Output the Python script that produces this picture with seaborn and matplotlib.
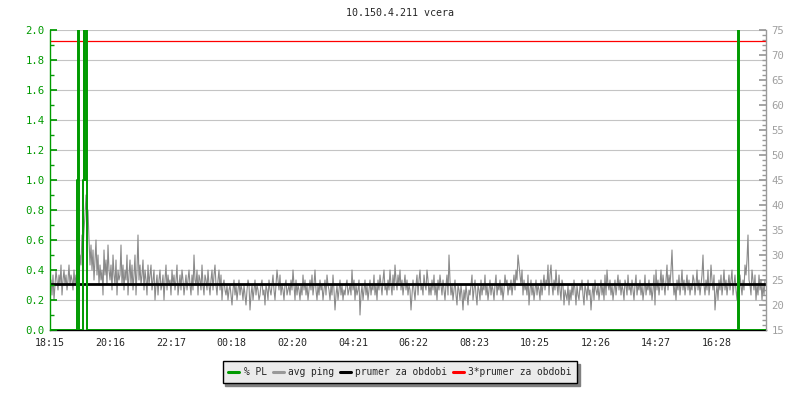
import numpy as np
import pandas as pd
import seaborn as sns
import matplotlib.pyplot as plt
from matplotlib.lines import Line2D
from matplotlib.ticker import MultipleLocator, FixedLocator

# ping samples (ms), one every 2 minutes starting 18:15
ping_ms = [
    23, 25, 22, 26, 21, 24, 27, 25, 23, 26, 24, 28, 22, 25, 27, 24, 26, 23, 25, 28,
    24, 26, 25, 23, 27, 24, 26, 22, 27, 25, 30, 28, 34, 31, 35, 38, 42, 36, 39, 33,
    28, 32, 27, 31, 25, 29, 33, 26, 30, 24, 28, 25, 27, 22, 31, 26, 29, 24, 32, 27,
    25, 28, 23, 30, 26, 24, 29, 22, 27, 25, 26, 32, 24, 28, 23, 27, 25, 30, 22, 26,
    29, 24, 28, 23, 26, 30, 22, 27, 34, 25, 28, 24, 26, 29, 23, 27, 25, 22, 28, 24,
    26, 28, 23, 25, 27, 21, 24, 26, 22, 25, 27, 23, 24, 26, 21, 25, 28, 23, 26, 24,
    25, 22, 27, 24, 26, 23, 25, 28, 22, 24, 26, 23, 27, 25, 22, 24, 26, 23, 25, 27,
    24, 22, 26, 23, 30, 25, 24, 27, 22, 26, 25, 23, 28, 24, 22, 26, 25, 23, 27, 24,
    22, 25, 27, 23, 26, 28, 24, 22, 25, 27, 23, 26, 21, 24, 25, 23, 22, 24, 21, 23,
    24, 22, 20, 23, 25, 22, 24, 21, 23, 25, 22, 24, 23, 21, 24, 22, 20, 23, 25, 24,
    19, 22, 24, 21, 23, 25, 22, 24, 23, 21, 22, 24, 25, 22, 23, 20, 24, 23, 21, 25,
    23, 22, 24, 26, 23, 21, 24, 27, 25, 23, 26, 22, 24, 23, 21, 24, 25, 22, 23, 24,
    22, 25, 23, 27, 24, 21, 25, 22, 24, 23, 21, 24, 22, 26, 23, 25, 22, 24, 21, 23,
    25, 23, 26, 22, 24, 27, 23, 21, 24, 22, 25, 23, 24, 21, 23, 25, 22, 26, 24, 23,
    21, 24, 22, 26, 23, 19, 22, 24, 21, 23, 25, 22, 24, 21, 23, 22, 24, 25, 22, 23,
    24, 22, 27, 23, 25, 21, 24, 22, 23, 25, 18, 22, 24, 21, 23, 25, 22, 24, 21, 23,
    25, 22, 24, 23, 26, 22, 24, 21, 25, 23, 26, 24, 22, 25, 27, 23, 24, 22, 25, 23,
    27, 24, 22, 26, 23, 28, 25, 23, 26, 24, 27, 23, 25, 22, 24, 26, 23, 25, 22, 24,
    23, 19, 22, 25, 23, 21, 24, 26, 22, 25, 27, 23, 24, 22, 26, 24, 23, 27, 25, 22,
    24, 22, 25, 23, 26, 22, 24, 21, 25, 23, 26, 24, 22, 25, 23, 21, 24, 26, 22, 30,
    25, 22, 24, 21, 23, 25, 22, 20, 24, 23, 21, 24, 22, 19, 23, 21, 24, 22, 20, 23,
    22, 24, 26, 21, 23, 25, 22, 20, 24, 23, 21, 25, 22, 24, 23, 26, 22, 24, 21, 23,
    25, 22, 24, 23, 21, 24, 26, 22, 24, 23, 25, 22, 24, 21, 23, 26, 24, 25, 22, 24,
    23, 25, 22, 24, 26, 23, 27, 25, 30, 28, 26, 24, 27, 22, 25, 23, 24, 22, 26, 20,
    23, 25, 22, 24, 21, 23, 25, 22, 24, 23, 21, 25, 22, 24, 26, 23, 25, 24, 28, 22,
    26, 28, 24, 22, 25, 23, 27, 24, 22, 26, 23, 21, 25, 24, 20, 23, 22, 21, 24, 20,
    23, 21, 24, 22, 25, 23, 20, 24, 22, 21, 24, 23, 25, 22, 20, 24, 23, 21, 25, 22,
    23, 19, 22, 24, 21, 25, 23, 22, 24, 21, 23, 25, 22, 24, 21, 26, 22, 27, 24, 23,
    25, 22, 24, 21, 23, 25, 22, 24, 26, 23, 25, 22, 24, 23, 21, 25, 24, 22, 26, 23,
    24, 22, 25, 23, 21, 24, 26, 22, 24, 23, 25, 22, 24, 21, 23, 26, 22, 24, 23, 25,
    22, 24, 21, 23, 26, 20, 27, 23, 25, 22, 24, 27, 23, 26, 24, 22, 25, 28, 23, 26,
    24, 27, 31, 25, 22, 24, 21, 25, 23, 26, 22, 24, 27, 23, 25, 22, 24, 26, 23, 25,
    22, 24, 23, 26, 25, 22, 24, 27, 23, 25, 22, 24, 26, 30, 24, 22, 25, 23, 27, 22,
    24, 28, 25, 23, 26, 19, 22, 24, 21, 25, 23, 26, 22, 24, 27, 23, 25, 22, 24, 26,
    23, 25, 27, 22, 24, 26, 23, 21, 25, 20, 26, 24, 22, 25, 23, 28, 26, 29, 34, 25,
    24, 22, 27, 25, 23, 26, 21, 24, 22, 26, 23, 25, 21, 24, 22, 25,
]
ping_step_min = 2

# packet loss (%), step values at minutes after 18:15
pl_minutes = [0, 54, 56, 58, 66, 67, 68, 72, 73, 1375, 1376, 1377, 1432]
pl_values = [0, 1.0, 10, 0, 1.0, 10, 1.0, 10, 0, 1.0, 10, 0, 0]

avg_ping = 24.3
tick_minutes = [0, 121, 242, 363, 485, 606, 727, 848, 970, 1091, 1212, 1333]
tick_labels = ['18:15', '20:16', '22:17', '00:18', '02:20', '04:21',
               '06:22', '08:23', '10:25', '12:26', '14:27', '16:28']

green = '#009a00'
grey = '#999999'
fs = 7.2

sns.set_theme(style='white')
plt.rcParams['font.family'] = ['DejaVu Sans Mono', 'DejaVu Sans']
plt.rcParams['font.size'] = fs

df = pd.DataFrame({'minute': np.arange(len(ping_ms)) * ping_step_min, 'ping': ping_ms})
pl = pd.DataFrame({'minute': pl_minutes, 'pl': pl_values})

fig = plt.figure(figsize=(8, 4), dpi=100)
ax = fig.add_axes([50 / 800, 70 / 400, 716 / 800, 300 / 400])
ax2 = ax.twinx()

ax.set_xlim(0, 1432)
ax.set_ylim(15, 75)
ax2.set_ylim(0, 2.0)

# grid lines follow the left (PL) axis
for v in np.arange(0.2, 2.01, 0.2):
    ax.axhline(15 + v * 30, color='#c4c4c4', lw=0.8, zorder=0)

sns.lineplot(data=df, x='minute', y='ping', ax=ax, color='#8a8a8a', lw=0.8, estimator=None, zorder=2)
ax.axhline(avg_ping, color='black', lw=2.0, zorder=3)
ax.axhline(3 * avg_ping, color='#ff0000', lw=0.9, zorder=3)

sns.lineplot(data=pl, x='minute', y='pl', ax=ax2, color=green, lw=1.4,
             estimator=None, drawstyle='steps-post', zorder=4)

ax.set_xlabel('')
ax.set_ylabel('')
ax2.set_xlabel('')
ax2.set_ylabel('')

# axes ticks
ax.set_xticks(tick_minutes)
ax.set_xticklabels(tick_labels)
ax.tick_params(axis='x', direction='in', length=5, width=1, color='black', pad=6, labelsize=fs)

ax.yaxis.tick_right()
ax.yaxis.set_major_locator(MultipleLocator(5))
ax.yaxis.set_minor_locator(MultipleLocator(1))
ax.tick_params(axis='y', which='major', direction='in', length=5, color=grey, labelcolor='#a0a0a0',
               left=False, right=True, labelleft=False, labelright=True, labelsize=fs + 0.5, pad=4)
ax.tick_params(axis='y', which='minor', direction='in', length=3, color=grey, left=False, right=True)

ax2.yaxis.tick_left()
ax2.yaxis.set_major_locator(FixedLocator(np.round(np.arange(0, 2.01, 0.2), 1)))
ax2.yaxis.set_minor_locator(MultipleLocator(0.1))
ax2.yaxis.set_major_formatter(plt.FormatStrFormatter('%.1f'))
ax2.tick_params(axis='y', which='major', direction='in', length=5, color=green, labelcolor=green,
                left=True, right=False, labelleft=True, labelright=False, labelsize=fs + 0.5, pad=4)
ax2.tick_params(axis='y', which='minor', direction='in', length=3, color=green, left=True, right=False)

for s in ax.spines.values():
    s.set_visible(False)
ax.spines['bottom'].set_visible(True)
ax.spines['bottom'].set_color('black')
ax.spines['bottom'].set_linewidth(1)
for s in ['top', 'bottom']:
    ax2.spines[s].set_visible(False)
ax2.spines['left'].set_color(green)
ax2.spines['left'].set_linewidth(1)
ax2.spines['right'].set_color(grey)
ax2.spines['right'].set_linewidth(1)

fig.text(0.5, 1 - 13 / 400, '10.150.4.211 vcera', ha='center', va='center', fontsize=fs)

handles = [Line2D([], [], color=green, lw=2.2),
           Line2D([], [], color=grey, lw=2.2),
           Line2D([], [], color='black', lw=2.2),
           Line2D([], [], color='#ff0000', lw=2.2)]
labels = ['% PL', 'avg ping', 'prumer za obdobi', '3*prumer za obdobi']
fig.legend(handles, labels, loc='center', bbox_to_anchor=(400 / 800, 1 - 372 / 400), ncol=4,
           frameon=True, fancybox=False, edgecolor='black', facecolor='#ebebeb', framealpha=1,
           shadow={'color': '#808080', 'alpha': 1}, handlelength=1.15, handletextpad=0.45,
           columnspacing=0.6, borderpad=0.6, fontsize=6.9)

fig.savefig('out.png', dpi=100, facecolor='white')
